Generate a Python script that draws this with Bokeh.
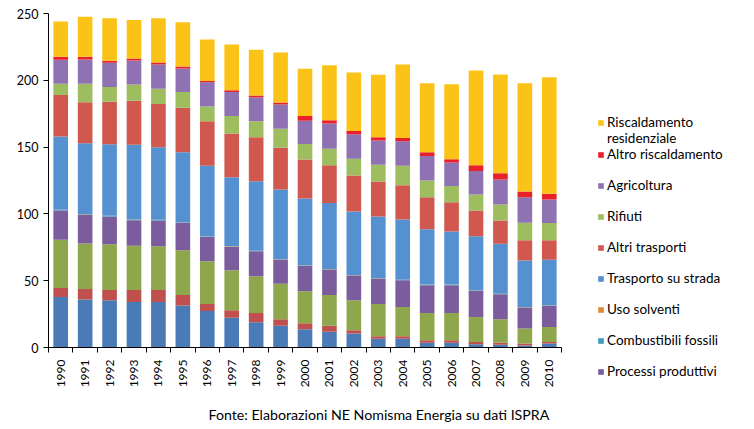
import math
from bokeh.plotting import figure
from bokeh.models import (ColumnDataSource, Range1d, FixedTicker, NumeralTickFormatter,
                          Legend, LegendItem, Title)
from bokeh.embed import file_html
from bokeh.resources import INLINE

FONT = "Lato"

years = list(range(1990, 2011))

# segments not shown in the (cut) legend, bottom of stack upward
serie_c = [37.8, 35.9, 35.4, 34.1, 34.1, 31.4, 27.4, 22.2, 18.9, 16.2, 13.7, 11.7, 10.5, 6.5, 6.5, 3.5, 3.5, 2.5, 2.0, 1.5, 3.0]
serie_b = [6.8, 7.9, 7.7, 9.0, 9.0, 7.9, 5.2, 5.7, 7.0, 5.0, 4.5, 4.5, 2.4, 2.0, 2.0, 2.0, 2.0, 1.7, 1.5, 1.5, 1.2]
serie_a = [36.1, 34.1, 34.1, 33.1, 32.6, 33.4, 31.9, 29.9, 27.4, 26.6, 23.9, 23.1, 22.5, 24.1, 21.9, 20.4, 20.4, 18.7, 17.7, 11.2, 11.2]
processi_produttivi = [21.9, 21.5, 20.9, 19.1, 19.4, 20.4, 18.2, 17.4, 18.7, 17.9, 18.9, 19.0, 18.4, 18.9, 19.9, 20.7, 20.7, 19.4, 18.6, 15.7, 15.7]
combustibili_fossili = [0.3] * 21
uso_solventi = [0.2] * 21
trasporto_strada = [54.8, 53.0, 53.5, 56.0, 54.3, 52.6, 52.8, 51.8, 52.0, 52.1, 50.1, 49.3, 47.5, 46.1, 45.1, 41.5, 39.8, 40.4, 37.4, 34.8, 34.1]
altri_trasporti = [31.1, 30.6, 31.9, 32.9, 32.4, 33.3, 33.3, 32.6, 32.9, 31.3, 29.1, 28.4, 26.9, 26.2, 25.6, 23.9, 21.9, 19.4, 17.4, 15.0, 14.5]
rifiuti = [8.5, 14.0, 11.0, 12.2, 11.4, 11.7, 11.0, 13.2, 11.9, 14.2, 11.7, 12.2, 12.5, 12.4, 14.5, 12.5, 12.0, 11.9, 12.0, 13.2, 12.9]
agricoltura = [17.9, 18.1, 18.1, 17.9, 18.2, 17.7, 18.2, 17.9, 18.1, 18.0, 17.4, 18.9, 18.4, 18.2, 18.4, 18.4, 17.6, 17.7, 18.6, 19.1, 17.7]
altro_riscaldamento = [2.2, 2.0, 1.5, 1.5, 1.5, 1.5, 0.9, 1.3, 1.3, 1.5, 3.5, 2.5, 2.5, 2.5, 2.5, 2.8, 2.5, 4.3, 4.8, 4.3, 4.2]
riscaldamento_residenziale = [26.4, 29.9, 31.9, 28.9, 33.1, 33.1, 31.1, 34.3, 34.1, 37.6, 35.4, 41.1, 43.8, 46.8, 55.0, 51.5, 56.1, 70.9, 73.9, 80.9, 87.2]

y_ticks = [0, 50, 100, 150, 200, 250]

caption = "Fonte: Elaborazioni NE Nomisma Energia su dati ISPRA"

stack_keys = ["serie_c", "serie_b", "serie_a", "processi", "combustibili", "solventi",
              "strada", "altri_trasp", "rifiuti", "agricoltura", "altro_risc", "resid"]
stack_colors = ["#4a7bb7", "#c0504d", "#8ea64c", "#7b5c9c", "#3d9bbd", "#e08a35",
                "#5590d1", "#d0584f", "#9dbd5e", "#8f72b2", "#e8202a", "#fbc318"]
# legend entries, top to bottom (key -> label); the first label wraps on two lines
legend_entries = [("resid", "Riscaldamento\nresidenziale"), ("altro_risc", "Altro riscaldamento"),
                  ("agricoltura", "Agricoltura"), ("rifiuti", "Rifiuti"),
                  ("altri_trasp", "Altri trasporti"), ("strada", "Trasporto su strada"),
                  ("solventi", "Uso solventi"), ("combustibili", "Combustibili fossili"),
                  ("processi", "Processi produttivi")]

source = ColumnDataSource(dict(
    year=years, serie_c=serie_c, serie_b=serie_b, serie_a=serie_a,
    processi=processi_produttivi, combustibili=combustibili_fossili, solventi=uso_solventi,
    strada=trasporto_strada, altri_trasp=altri_trasporti, rifiuti=rifiuti,
    agricoltura=agricoltura, altro_risc=altro_riscaldamento, resid=riscaldamento_residenziale,
))

W, H = 754, 429
FT, FB, FL, FR = 13, 347, 48, 561

p = figure(frame_width=FR - FL, frame_height=FB - FT, output_backend="svg", toolbar_location=None,
           x_range=Range1d(years[0] - 0.5, years[-1] + 0.5), y_range=Range1d(0, 250),
           min_border_left=FL, min_border_right=W - FR, min_border_top=FT, min_border_bottom=H - FB)
renderers = p.vbar_stack(stack_keys, x="year", width=0.6, color=stack_colors, line_color=None,
                         source=source)
rmap = dict(zip(stack_keys, renderers))
blank = p.vbar(x=[], top=[], width=0.6, fill_alpha=0, line_alpha=0)

p.xgrid.visible = False
p.ygrid.visible = False
p.outline_line_color = None
p.background_fill_color = "white"
p.border_fill_color = "white"

xa = p.xaxis[0]
xa.ticker = FixedTicker(ticks=years, minor_ticks=[y - 0.5 for y in years] + [years[-1] + 0.5])
xa.formatter = NumeralTickFormatter(format="0")
xa.major_tick_out = 0
xa.major_tick_in = 0
xa.minor_tick_out = 5
xa.minor_tick_in = 0
xa.minor_tick_line_color = "black"
xa.axis_line_color = "black"
xa.major_label_orientation = math.pi / 2
xa.major_label_standoff = 7
xa.major_label_text_font = FONT
xa.major_label_text_font_size = "12px"
xa.major_label_text_color = "black"

ya = p.yaxis[0]
ya.ticker = FixedTicker(ticks=y_ticks)
ya.major_tick_out = 5
ya.major_tick_in = 0
ya.minor_tick_out = 0
ya.minor_tick_in = 0
ya.axis_line_color = "black"
ya.major_tick_line_color = "black"
ya.major_label_standoff = 5
ya.major_label_text_font = FONT
ya.major_label_text_font_size = "12.5px"
ya.major_label_text_color = "black"

# legend rows: wrapped first label, then a blank row between entries
items = []
for i, (key, lab) in enumerate(legend_entries):
    parts = lab.split("\n")
    items.append(LegendItem(label=parts[0], renderers=[rmap[key]]))
    for extra in parts[1:]:
        items.append(LegendItem(label=extra, renderers=[blank]))
    if 0 < i < len(legend_entries) - 1:
        items.append(LegendItem(label=" ", renderers=[blank]))

legend = Legend(items=items, location=(36, -32), orientation="vertical",
                margin=0, padding=0, spacing=0,
                glyph_width=7, glyph_height=7, label_height=15, label_standoff=3,
                label_text_font=FONT, label_text_font_size="13.5px", label_text_color="black",
                border_line_color=None, background_fill_alpha=0)
p.add_layout(legend, "right")

title = Title(text=caption, align="left", offset=160, standoff=27,
              text_font=FONT, text_font_size="14.2px", text_font_style="normal",
              text_color="black")
p.add_layout(title, "below")

open("out.html", "w").write(file_html(p, INLINE))
